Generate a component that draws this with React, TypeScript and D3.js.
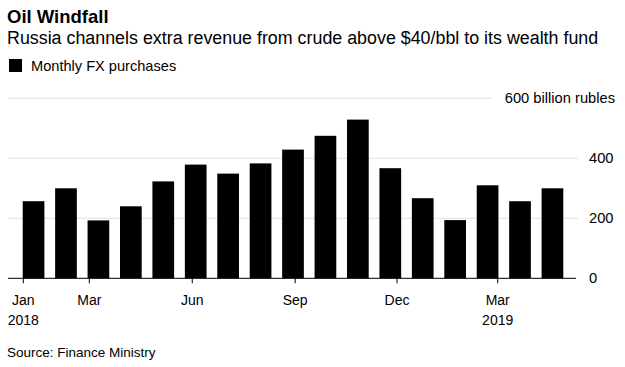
import React from "react";
import * as d3 from "d3";

const months = [
  "2018-01", "2018-02", "2018-03", "2018-04", "2018-05", "2018-06",
  "2018-07", "2018-08", "2018-09", "2018-10", "2018-11", "2018-12",
  "2019-01", "2019-02", "2019-03", "2019-04", "2019-05",
];
const fxPurchases = [257, 300, 193, 240, 323, 379, 349, 383, 429, 475, 529, 367, 267, 194, 310, 257, 300];
const yTicks = [0, 200, 400, 600];
const xTickDates = ["2018-01-01", "2018-03-01", "2018-06-01", "2018-09-01", "2018-12-01", "2019-03-01"];
const xTickMonths = ["Jan", "Mar", "Jun", "Sep", "Dec", "Mar"];
const xTickYears = ["2018", "", "", "", "", "2019"];

const W = 625;
const H = 367;
const FONT = "'Liberation Sans', Arial, Helvetica, sans-serif";

export default function App() {
  const x = d3.scaleBand<string>().domain(months).range([22.7, 563.3]).paddingInner(0.331).paddingOuter(0);
  const parse = d3.utcParse("%Y-%m-%d");
  const xt = d3.scaleUtc().domain([parse("2018-01-01")!, parse("2019-03-01")!]).range([23.3, 497.7]);
  const y = d3.scaleLinear().domain([0, 600]).range([278.3, 98.3]);
  const plotLeft = 8;
  const plotRight = 578;

  return (
    <svg width={W} height={H} style={{ position: "absolute", left: 0, top: 0, background: "#fff" }} fontFamily={FONT}>
      <text x={7} y={23} fontSize={18.5} fontWeight="bold" fill="#000">Oil Windfall</text>
      <text x={7} y={44} fontSize={17.85} fill="#000">Russia channels extra revenue from crude above $40/bbl to its wealth fund</text>
      <rect x={9} y={59} width={13} height={13} fill="#000" />
      <text x={31} y={71} fontSize={14.6} fill="#000">Monthly FX purchases</text>

      {yTicks.filter((t) => t > 0).map((t) => (
        <line key={t} x1={plotLeft} x2={t === 600 ? 493 : plotRight} y1={y(t)} y2={y(t)} stroke="#e2e2e2" strokeWidth={1} />
      ))}

      {months.map((m, i) => (
        <rect key={m} x={x(m)} y={y(fxPurchases[i])} width={x.bandwidth()} height={y(0) - y(fxPurchases[i])} fill="#000" />
      ))}

      <line x1={plotLeft} x2={576} y1={y(0)} y2={y(0)} stroke="#000" strokeWidth={1} />

      {yTicks.map((t) =>
        t === 600 ? (
          <text key={t} x={615} y={y(t)} dy="0.35em" fontSize={14.7} textAnchor="end" fill="#000">{`${t} billion rubles`}</text>
        ) : (
          <text key={t} x={589} y={y(t)} dy="0.35em" fontSize={14.7} fill="#000">{t}</text>
        )
      )}

      {xTickDates.map((d, i) => {
        const px = xt(parse(d)!);
        return (
          <g key={d}>
            <line x1={px} x2={px} y1={y(0)} y2={y(0) + 5} stroke="#000" strokeWidth={1} />
            <text x={px} y={305} fontSize={14} textAnchor="middle" fill="#000">{xTickMonths[i]}</text>
            {xTickYears[i] && (
              <text x={px} y={325} fontSize={14} textAnchor="middle" fill="#000">{xTickYears[i]}</text>
            )}
          </g>
        );
      })}

      <text x={7} y={357} fontSize={13.5} fill="#000">Source: Finance Ministry</text>
    </svg>
  );
}
